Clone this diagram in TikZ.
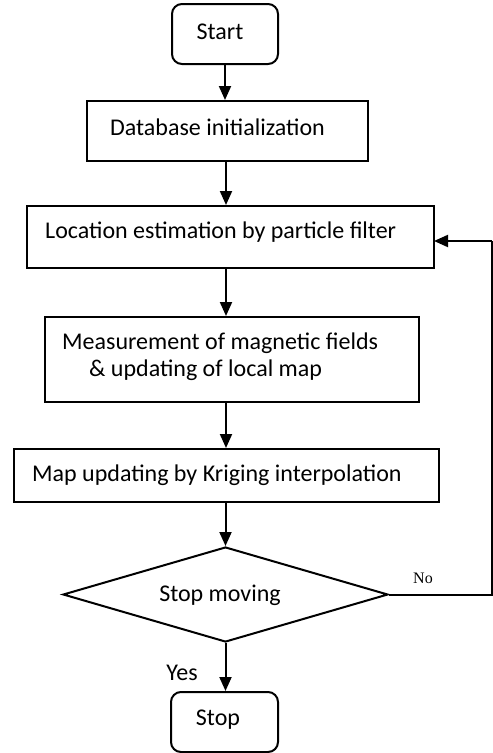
\documentclass[tikz,border=0pt]{standalone}
\usepackage{fontspec}
\setmainfont{Carlito}
\newfontfamily\serifno{Liberation Serif}
\usetikzlibrary{arrows.meta,shapes.geometric}
\begin{document}
\begin{tikzpicture}[x=1pt,y=-1pt,
  box/.style={draw,line width=2pt,inner sep=0pt},
  rbox/.style={box,rounded corners=10pt},
  txt/.style={inner sep=0pt,font=\fontsize{24}{28}\selectfont},
  arr/.style={line width=2pt,-{Triangle[width=12pt,length=14pt]}},
  ln/.style={line width=2pt}]
\useasboundingbox (0,0) rectangle (493,753);
\node[rbox,minimum width=106pt,minimum height=60pt] (start) at (225,34) {};
\node[txt] (starttxt) at (220,32) {Start};
\node[box,minimum width=281pt,minimum height=60pt] (db) at (227.5,131) {};
\node[txt,anchor=west] (dbtxt) at (110,127) {Database initialization};
\node[box,minimum width=407pt,minimum height=62pt] (loc) at (230.5,237) {};
\node[txt,anchor=west] (loctxt) at (45,232) {Location estimation by particle filter};
\node[box,minimum width=374pt,minimum height=85pt] (meas) at (232,359.5) {};
\node[txt,anchor=west] (meastxt1) at (62,343) {Measurement of magnetic fields};
\node[txt,anchor=west] (meastxt2) at (89,370) {\&\ updating of local map};
\node[box,minimum width=425pt,minimum height=53pt] (map) at (226.5,475.5) {};
\node[txt,anchor=west] (maptxt) at (32,475) {Map updating by Kriging interpolation};
\node[draw,line width=2pt,diamond,inner sep=0pt,aspect=3.42,minimum width=325pt,minimum height=95pt] (dec) at (225.5,594.5) {};
\node[txt] (dectxt) at (220,595) {Stop moving};
\node[rbox,minimum width=107pt,minimum height=60pt] (stop) at (224.5,722) {};
\node[txt] (stoptxt) at (218,720) {Stop};
\node[txt] (yes) at (182,673) {Yes};
\node[inner sep=0pt,font=\serifno\fontsize{16}{18}\selectfont] (no) at (423,578) {No};
\coordinate (c1) at (492,594.5);
\coordinate (c2) at (492,241);
\coordinate (c3) at (434,241);
\draw[arr] (start.south) -- (start.south |- db.north);
\draw[arr] (226,0 |- db.south) -- (226,0 |- loc.north);
\draw[arr] (226,0 |- loc.south) -- (226,0 |- meas.north);
\draw[arr] (226,0 |- meas.south) -- (226,0 |- map.north);
\draw[arr] (dec.north |- map.south) -- (dec.north);
\draw[arr] (dec.south) -- (dec.south |- stop.north);
\draw[ln] (dec.east) -- (c1) -- (c2);
\draw[arr] (c2) -- (c3);
\end{tikzpicture}
\end{document}
